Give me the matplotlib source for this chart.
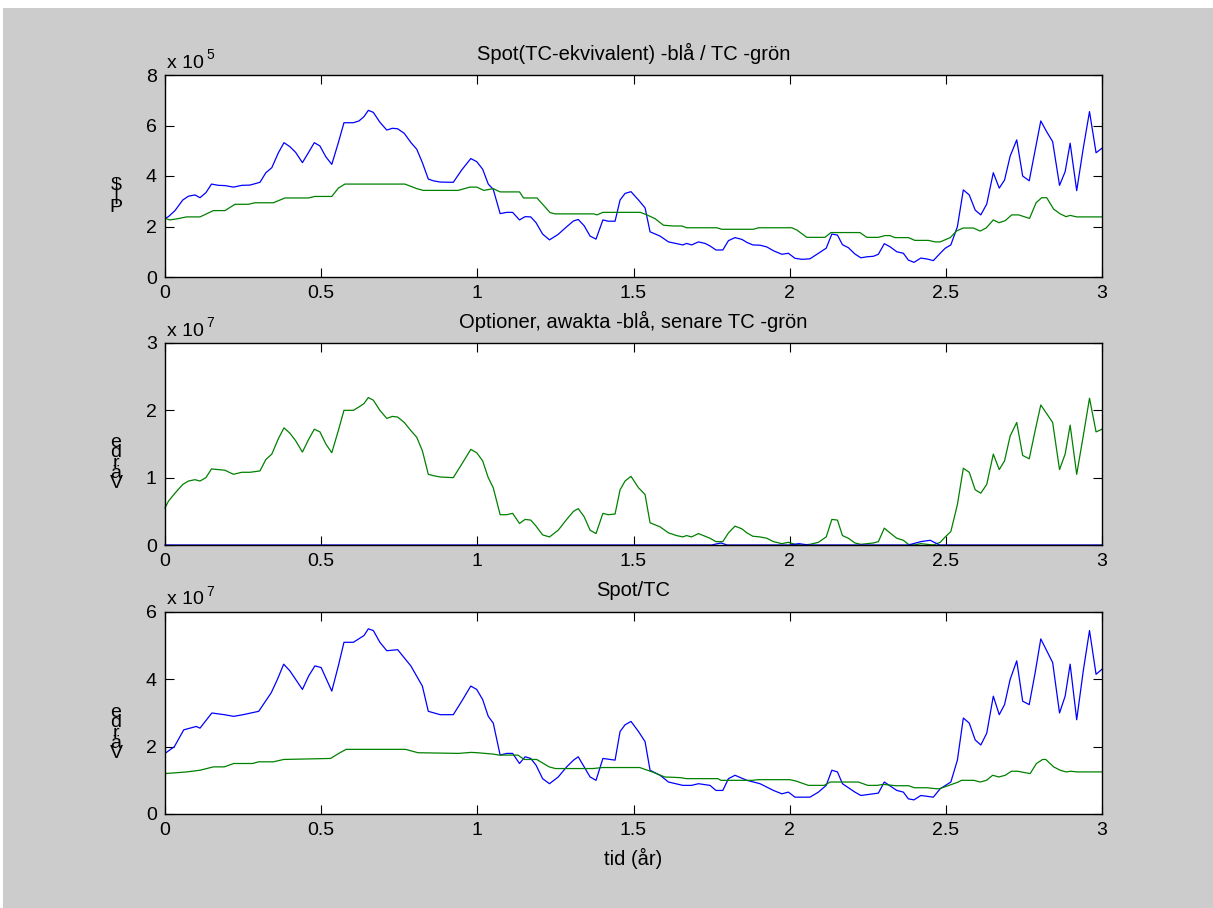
import matplotlib
matplotlib.use("Agg")
import matplotlib.pyplot as plt
from matplotlib.patches import Rectangle

plt.rcParams['font.family'] = ['Liberation Sans', 'DejaVu Sans']

# ---------------- data ----------------
titles = ["Spot(TC-ekvivalent) -blå / TC -grön",
          "Optioner, awakta -blå, senare TC -grön",
          "Spot/TC"]
xlabel_text = "tid (år)"
xticks = [0, 0.5, 1, 1.5, 2, 2.5, 3]
xtick_labels = ["0", "0.5", "1", "1.5", "2", "2.5", "3"]
yticks1 = [0, 2, 4, 6, 8]
yticks2 = [0, 1, 2, 3]
yticks3 = [0, 2, 4, 6]
exponents = ["5", "7", "7"]

# panel 1 blue (x 1e5)
x_blue1 = [0, 0.011, 0.032, 0.057, 0.075, 0.096, 0.112, 0.131, 0.149, 0.171, 0.192, 0.219,
           0.246, 0.272, 0.304, 0.323, 0.342, 0.363, 0.381, 0.400, 0.418, 0.440, 0.459, 0.478,
           0.496, 0.515, 0.534, 0.555, 0.573, 0.603, 0.621, 0.637, 0.651, 0.667, 0.688, 0.710,
           0.728, 0.745, 0.766, 0.787, 0.806, 0.824, 0.843, 0.859, 0.881, 0.923, 0.950, 0.979,
           0.998, 1.017, 1.035, 1.051, 1.073, 1.094, 1.113, 1.135, 1.153, 1.171, 1.188, 1.209,
           1.231, 1.259, 1.286, 1.308, 1.323, 1.342, 1.361, 1.380, 1.402, 1.419, 1.441, 1.457,
           1.473, 1.492, 1.516, 1.537, 1.553, 1.585, 1.612, 1.638, 1.658, 1.670, 1.686, 1.708,
           1.729, 1.745, 1.764, 1.786, 1.804, 1.825, 1.847, 1.863, 1.882, 1.905, 1.927, 1.948,
           1.975, 1.996, 2.017, 2.039, 2.065, 2.092, 2.117, 2.135, 2.153, 2.169, 2.188, 2.209,
           2.228, 2.247, 2.268, 2.284, 2.303, 2.321, 2.343, 2.364, 2.380, 2.398, 2.420, 2.441,
           2.460, 2.482, 2.498, 2.516, 2.537, 2.556, 2.575, 2.594, 2.612, 2.631, 2.652, 2.671,
           2.688, 2.706, 2.727, 2.746, 2.767, 2.786, 2.804, 2.823, 2.842, 2.864, 2.882, 2.898,
           2.919, 2.940, 2.960, 2.981, 3.0]
y_blue1 = [2.32, 2.39, 2.63, 3.05, 3.20, 3.25, 3.14, 3.34, 3.68, 3.63, 3.62, 3.56,
           3.63, 3.64, 3.75, 4.13, 4.33, 4.92, 5.32, 5.16, 4.94, 4.53, 4.92, 5.32,
           5.19, 4.76, 4.46, 5.32, 6.11, 6.11, 6.18, 6.35, 6.60, 6.52, 6.13, 5.82,
           5.89, 5.87, 5.69, 5.33, 5.06, 4.53, 3.88, 3.81, 3.76, 3.75, 4.24, 4.69,
           4.57, 4.27, 3.68, 3.47, 2.51, 2.56, 2.56, 2.26, 2.39, 2.38, 2.15, 1.70,
           1.47, 1.69, 1.99, 2.22, 2.28, 2.03, 1.62, 1.50, 2.26, 2.21, 2.21, 3.05,
           3.31, 3.38, 3.05, 2.74, 1.79, 1.62, 1.39, 1.32, 1.27, 1.33, 1.27, 1.39,
           1.33, 1.23, 1.07, 1.07, 1.44, 1.56, 1.49, 1.37, 1.27, 1.26, 1.19, 1.04,
           0.90, 0.94, 0.74, 0.70, 0.72, 0.94, 1.14, 1.70, 1.66, 1.28, 1.16, 0.91,
           0.76, 0.80, 0.82, 0.90, 1.32, 1.20, 1.00, 0.94, 0.67, 0.58, 0.75, 0.71,
           0.65, 0.94, 1.14, 1.27, 1.99, 3.45, 3.25, 2.65, 2.46, 2.89, 4.13, 3.52,
           3.84, 4.79, 5.43, 4.00, 3.81, 5.03, 6.18, 5.75, 5.36, 3.63, 4.17, 5.30,
           3.42, 5.10, 6.55, 4.92, 5.10]

# panel 1 green (x 1e5)
x_green1 = [0, 0.016, 0.037, 0.069, 0.112, 0.155, 0.192, 0.224, 0.267, 0.288, 0.347, 0.384,
            0.459, 0.480, 0.534, 0.555, 0.576, 0.768, 0.806, 0.827, 0.939, 0.976, 0.998,
            1.021, 1.051, 1.073, 1.135, 1.148, 1.191, 1.233, 1.249, 1.372, 1.383, 1.402,
            1.522, 1.543, 1.569, 1.596, 1.628, 1.655, 1.670, 1.767, 1.782, 1.884, 1.900,
            2.007, 2.023, 2.055, 2.113, 2.132, 2.225, 2.247, 2.284, 2.305, 2.321, 2.337,
            2.380, 2.401, 2.444, 2.466, 2.482, 2.514, 2.535, 2.556, 2.588, 2.610, 2.629,
            2.652, 2.670, 2.690, 2.711, 2.733, 2.768, 2.789, 2.807, 2.823, 2.845, 2.866,
            2.885, 2.898, 2.919, 3.0]
y_green1 = [2.32, 2.26, 2.30, 2.38, 2.38, 2.63, 2.63, 2.88, 2.88, 2.94, 2.94, 3.13,
            3.13, 3.19, 3.19, 3.52, 3.68, 3.68, 3.50, 3.43, 3.43, 3.56, 3.56,
            3.43, 3.50, 3.37, 3.37, 3.13, 3.13, 2.55, 2.50, 2.50, 2.46, 2.56,
            2.56, 2.46, 2.31, 2.05, 2.02, 2.02, 1.95, 1.95, 1.89, 1.89, 1.95,
            1.95, 1.86, 1.57, 1.57, 1.76, 1.76, 1.57, 1.57, 1.64, 1.64, 1.56,
            1.56, 1.45, 1.45, 1.39, 1.39, 1.56, 1.83, 1.94, 1.94, 1.82, 1.94,
            2.26, 2.15, 2.23, 2.46, 2.46, 2.32, 2.94, 3.14, 3.14, 2.69, 2.50,
            2.39, 2.44, 2.38, 2.38]

# panel 2 green (x 1e7)
x_green2 = x_blue1
y_green2 = [0.55, 0.65, 0.77, 0.90, 0.95, 0.97, 0.95, 1.00, 1.13, 1.12, 1.11, 1.05,
            1.08, 1.08, 1.10, 1.27, 1.35, 1.58, 1.74, 1.66, 1.55, 1.38, 1.56, 1.72,
            1.68, 1.50, 1.37, 1.70, 2.00, 2.00, 2.05, 2.10, 2.19, 2.15, 2.00, 1.88,
            1.91, 1.90, 1.82, 1.70, 1.60, 1.40, 1.05, 1.03, 1.01, 1.00, 1.20, 1.42,
            1.37, 1.25, 1.00, 0.85, 0.45, 0.45, 0.47, 0.32, 0.38, 0.37, 0.28, 0.15,
            0.12, 0.22, 0.38, 0.50, 0.54, 0.42, 0.22, 0.17, 0.47, 0.45, 0.46, 0.82,
            0.95, 1.02, 0.85, 0.75, 0.33, 0.27, 0.18, 0.14, 0.12, 0.14, 0.12, 0.17,
            0.13, 0.10, 0.05, 0.05, 0.18, 0.28, 0.24, 0.18, 0.13, 0.12, 0.10, 0.05,
            0.02, 0.04, 0.01, 0.00, 0.01, 0.04, 0.12, 0.38, 0.37, 0.14, 0.10, 0.03,
            0.01, 0.02, 0.03, 0.05, 0.25, 0.18, 0.10, 0.07, 0.01, 0.00, 0.02, 0.01,
            0.00, 0.04, 0.12, 0.20, 0.60, 1.14, 1.08, 0.82, 0.77, 0.90, 1.35, 1.12,
            1.25, 1.62, 1.82, 1.33, 1.28, 1.70, 2.08, 1.95, 1.82, 1.12, 1.35, 1.78,
            1.05, 1.62, 2.18, 1.68, 1.72]

# panel 2 blue (x 1e7)
x_blue2 = [0, 1.75, 1.78, 1.80, 2.00, 2.03, 2.06, 2.38, 2.42, 2.45, 2.48, 3.0]
y_blue2 = [0, 0, 0.03, 0, 0, 0.02, 0, 0, 0.05, 0.07, 0, 0]

# panel 3 blue (x 1e7)
x_blue3 = [0, 0.03, 0.06, 0.10, 0.112, 0.15, 0.19, 0.22, 0.25, 0.30, 0.34, 0.36, 0.38, 0.40,
           0.44, 0.46, 0.48, 0.50, 0.534, 0.555, 0.573, 0.603, 0.637, 0.651, 0.667, 0.688,
           0.71, 0.745, 0.787, 0.824, 0.843, 0.881, 0.923, 0.95, 0.979, 0.998, 1.017, 1.035,
           1.051, 1.073, 1.094, 1.113, 1.135, 1.153, 1.171, 1.188, 1.209, 1.231, 1.259, 1.286,
           1.308, 1.323, 1.342, 1.361, 1.38, 1.402, 1.441, 1.457, 1.473, 1.492, 1.516, 1.537,
           1.553, 1.585, 1.612, 1.658, 1.686, 1.708, 1.745, 1.764, 1.786, 1.804, 1.825, 1.863,
           1.905, 1.948, 1.975, 1.996, 2.017, 2.065, 2.092, 2.117, 2.135, 2.153, 2.169, 2.209,
           2.228, 2.268, 2.284, 2.303, 2.343, 2.364, 2.38, 2.398, 2.42, 2.46, 2.482, 2.516,
           2.537, 2.556, 2.575, 2.594, 2.612, 2.631, 2.652, 2.671, 2.688, 2.706, 2.727, 2.746,
           2.767, 2.786, 2.804, 2.823, 2.842, 2.864, 2.882, 2.898, 2.919, 2.94, 2.96, 2.981, 3.0]
y_blue3 = [1.8, 2.0, 2.5, 2.6, 2.55, 3.0, 2.95, 2.9, 2.95, 3.05, 3.6, 4.0, 4.45, 4.25,
           3.7, 4.1, 4.4, 4.35, 3.65, 4.4, 5.1, 5.1, 5.3, 5.5, 5.45, 5.1,
           4.85, 4.88, 4.4, 3.8, 3.05, 2.95, 2.95, 3.35, 3.8, 3.7, 3.4, 2.9,
           2.7, 1.75, 1.8, 1.8, 1.5, 1.7, 1.65, 1.45, 1.05, 0.9, 1.1, 1.4,
           1.6, 1.7, 1.4, 1.1, 1.0, 1.65, 1.6, 2.45, 2.65, 2.75, 2.45, 2.15,
           1.3, 1.15, 0.95, 0.85, 0.85, 0.9, 0.85, 0.7, 0.7, 1.05, 1.15, 1.0,
           0.9, 0.7, 0.6, 0.65, 0.5, 0.5, 0.65, 0.85, 1.3, 1.25, 0.9, 0.65,
           0.55, 0.6, 0.62, 0.95, 0.7, 0.65, 0.45, 0.42, 0.55, 0.5, 0.75, 0.95,
           1.6, 2.85, 2.7, 2.2, 2.05, 2.4, 3.5, 2.95, 3.25, 4.0, 4.55, 3.35,
           3.25, 4.2, 5.2, 4.85, 4.5, 3.0, 3.5, 4.45, 2.8, 4.25, 5.45, 4.15, 4.3]

# panel 3 green (x 1e7)
x_green3 = [0, 0.07, 0.112, 0.155, 0.19, 0.22, 0.28, 0.30, 0.347, 0.38, 0.53, 0.56, 0.58,
            0.77, 0.81, 0.94, 0.98, 1.0, 1.05, 1.07, 1.13, 1.15, 1.19, 1.23, 1.25, 1.37,
            1.40, 1.52, 1.56, 1.60, 1.65, 1.67, 1.77, 1.78, 1.88, 1.90, 2.0, 2.02, 2.06,
            2.11, 2.13, 2.22, 2.25, 2.28, 2.30, 2.34, 2.38, 2.40, 2.44, 2.47, 2.48, 2.51,
            2.54, 2.55, 2.59, 2.61, 2.63, 2.65, 2.67, 2.69, 2.71, 2.73, 2.77, 2.79, 2.81,
            2.82, 2.845, 2.866, 2.885, 2.90, 2.92, 3.0]
y_green3 = [1.2, 1.25, 1.3, 1.4, 1.4, 1.5, 1.5, 1.55, 1.55, 1.62, 1.65, 1.82, 1.92,
            1.92, 1.82, 1.8, 1.83, 1.82, 1.78, 1.75, 1.75, 1.62, 1.62, 1.4, 1.35, 1.35,
            1.38, 1.38, 1.25, 1.1, 1.08, 1.05, 1.05, 1.0, 1.0, 1.02, 1.02, 0.98, 0.85,
            0.85, 0.95, 0.95, 0.85, 0.85, 0.88, 0.84, 0.84, 0.78, 0.78, 0.75, 0.75, 0.85,
            0.95, 1.0, 1.0, 0.95, 1.0, 1.15, 1.1, 1.15, 1.27, 1.27, 1.2, 1.5, 1.62,
            1.62, 1.4, 1.3, 1.25, 1.27, 1.25, 1.25]

# stacked (upright, overlapping) y labels as in the reference
ylabels = ["$\n|\nP", "e\nd\nr\nä\nV", "e\nd\nr\nä\nV"]

# ---------------- figure ----------------
W, H = 1213, 908
fig = plt.figure(figsize=(W / 100, H / 100), dpi=100, facecolor="white")
fig.patches.append(Rectangle((3 / W, 0), 1, (H - 8) / H, transform=fig.transFigure,
                             facecolor="#cccccc", edgecolor="none", zorder=-10))

def px(x, y):
    return x / W, 1 - y / H

BLUE = "#0000ff"
GREEN = "#008000"
FS_TICK = 14
FS_TITLE = 14.5

left, right = 165, 1102
panels = [(75, 277), (343, 545), (612, 814)]
series = [
    [(x_blue1, y_blue1, BLUE), (x_green1, y_green1, GREEN)],
    [(x_green2, y_green2, GREEN), (x_blue2, y_blue2, BLUE)],
    [(x_blue3, y_blue3, BLUE), (x_green3, y_green3, GREEN)],
]
yticks_all = [yticks1, yticks2, yticks3]

for i, (top, bot) in enumerate(panels):
    ax = fig.add_axes([left / W, 1 - bot / H, (right - left) / W, (bot - top) / H])
    for xs, ys, c in series[i]:
        ax.plot(xs, ys, color=c, lw=0.9, clip_on=(i != 1))
    yt = yticks_all[i]
    ax.set_xlim(0, 3)
    ax.set_ylim(yt[0], yt[-1])
    ax.set_xticks(xticks)
    ax.set_xticklabels(xtick_labels)
    ax.set_yticks(yt)
    ax.set_yticklabels([str(v) for v in yt])
    ax.tick_params(direction="in", length=6.5, width=0.8, top=True, right=True,
                   labelsize=FS_TICK, pad=6, colors="black")
    for s in ax.spines.values():
        s.set_linewidth(1.0)
        s.set_color("black")
    ax.set_facecolor("white")
    # title
    fig.text(*px((left + right) / 2, top - 22), titles[i], ha="center", va="center",
             fontsize=FS_TITLE)
    # exponent label
    fig.text(*px(167, top - 12), "x 10", ha="left", va="center", fontsize=FS_TICK)
    fig.text(*px(206, top - 20), exponents[i], ha="left", va="center", fontsize=10)

# stacked y labels
lab_spec = [(116, 196, 14, 0.55), (116, 463, 14, 0.47), (116, 733, 14, 0.47)]
for txt, (x, y, fs, ls) in zip(ylabels, lab_spec):
    fig.text(*px(x, y), txt, ha="center", va="center", fontsize=fs, linespacing=ls,
             multialignment="center")

fig.text(*px((left + right) / 2, 858), xlabel_text, ha="center", va="center", fontsize=14.5)

fig.savefig("out.png", dpi=100, facecolor=fig.get_facecolor())
